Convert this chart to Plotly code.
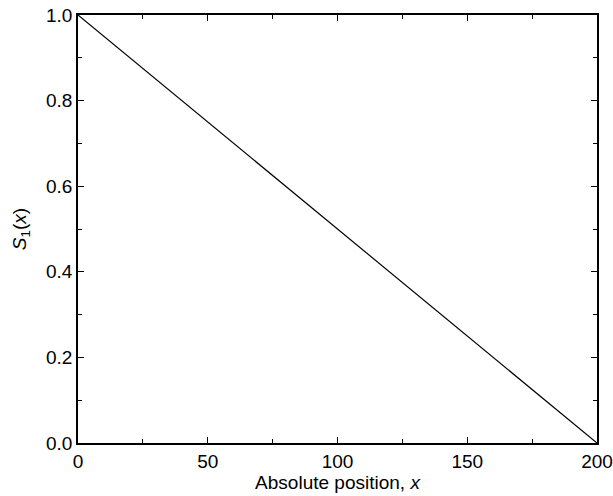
import plotly.graph_objects as go

x_vals = [0, 200]
s1_vals = [1.0, 0.0]
x_ticks = [0, 50, 100, 150, 200]
y_ticks = [0.0, 0.2, 0.4, 0.6, 0.8, 1.0]
y_tick_labels = ["0.0", "0.2", "0.4", "0.6", "0.8", "1.0"]

fig = go.Figure()
fig.add_trace(go.Scatter(x=x_vals, y=s1_vals, mode="lines",
                         line=dict(color="black", width=1.2), showlegend=False))

font = dict(family="Liberation Sans, Arial, sans-serif", size=19, color="black")
fig.update_layout(
    width=613, height=496,
    margin=dict(l=78, r=16, t=15, b=53),
    paper_bgcolor="white", plot_bgcolor="white",
    font=font,
    xaxis=dict(range=[0, 200], tickvals=x_ticks, ticks="inside", ticklen=6, tickwidth=1,
               tickcolor="black", showline=True, linecolor="black", linewidth=1.5, mirror="ticks",
               showgrid=False, zeroline=False, tickfont=dict(size=19), automargin=False,
               minor=dict(dtick=25, ticks="inside", ticklen=4, tickcolor="black", showgrid=False),
               title=dict(text="Absolute position, <i>x</i>", font=dict(size=19), standoff=4)),
    yaxis=dict(range=[0, 1], tickvals=y_ticks, ticktext=y_tick_labels, ticks="inside", ticklen=6,
               tickwidth=1, tickcolor="black", showline=True, linecolor="black", linewidth=1.5,
               mirror="ticks", showgrid=False, zeroline=False, tickfont=dict(size=19), automargin=False,
               minor=dict(dtick=0.1, ticks="inside", ticklen=4, tickcolor="black", showgrid=False),
               title=dict(text="<i>S</i><sub>1</sub>(<i>x</i>)", font=dict(size=19), standoff=14)),
)
fig.write_html("out.html", config={"displayModeBar": False},
               post_script="document.body.style.margin='0';document.body.style.padding='0';")
